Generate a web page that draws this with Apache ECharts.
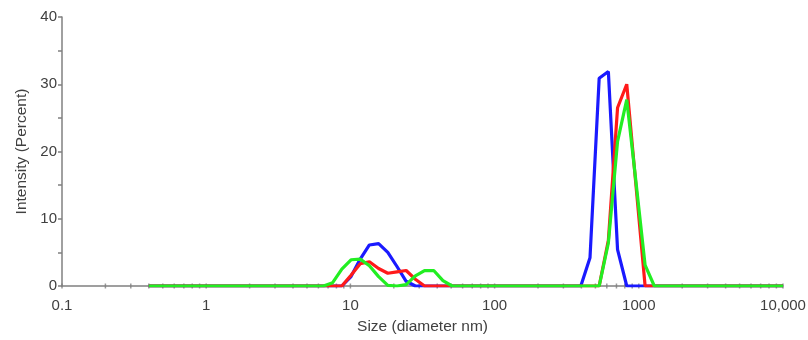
<!DOCTYPE html>
<html><head><meta charset="utf-8">
<script src="https://cdn.jsdelivr.net/npm/echarts@6/dist/echarts.min.js"></script>
<style>html,body{margin:0;padding:0;background:#fff}#c{width:808px;height:340px}</style>
</head><body><div id="c"></div>
<script>
// Size bins (diameter, nm)
const sizes = [0.4,0.4632,0.5365,0.6213,0.7195,0.8332,0.9649,1.117,1.294,1.499,
  1.736,2.01,2.328,2.696,3.122,3.615,4.187,4.849,5.615,6.503,
  7.531,8.721,10.1,11.7,13.54,15.69,18.17,21.04,24.36,28.21,
  32.67,37.84,43.82,50.75,58.77,68.06,78.82,91.28,105.7,122.4,
  141.8,164.2,190.1,220.2,255.0,295.3,342.0,396.1,458.7,531.2,
  615.1,712.4,825.0,955.4,1106,1281,1484,1718,1990,2305,
  2669,3091,3580,4145,4801,5560,6439,7456,8635,10000];
// Intensity (%) per bin
const blueVals = [0,0,0,0,0,0,0,0,0,0,
  0,0,0,0,0,0,0,0,0,0,
  0,0,1.4,4.0,6.1,6.3,5.0,2.9,0.7,0,
  0,0,0,0,0,0,0,0,0,0,
  0,0,0,0,0,0,0,0,4.2,30.9,
  31.9,5.4,0,0,0,0,0,0,0,0,
  0,0,0,0,0,0,0,0,0,0];
const redVals = [0,0,0,0,0,0,0,0,0,0,
  0,0,0,0,0,0,0,0,0,0,
  0,0,1.6,3.3,3.6,2.6,1.9,2.1,2.3,1.0,
  0,0,0,0,0,0,0,0,0,0,
  0,0,0,0,0,0,0,0,0,0,
  6.8,26.5,30.0,15.0,0,0,0,0,0,0,
  0,0,0,0,0,0,0,0,0,0];
const greenVals = [0,0,0,0,0,0,0,0,0,0,
  0,0,0,0,0,0,0,0,0,0,
  0.5,2.5,3.9,4.0,3.0,1.4,0.1,0,0.2,1.5,
  2.3,2.3,0.8,0,0,0,0,0,0,0,
  0,0,0,0,0,0,0,0,0,0,
  6.4,21.5,27.7,15.5,3.1,0,0,0,0,0,
  0,0,0,0,0,0,0,0,0,0];
// x-axis tick positions (decades and 2..9 sub-ticks)
const decades = [0.1,1,10,100,1000];
const subSteps = [1,2,3,4,5,6,7,8,9];
const xTickValues = [];
decades.forEach(d => subSteps.forEach(m => xTickValues.push(+(d*m).toPrecision(3))));
xTickValues.push(10000);

const FONT = 'Liberation Sans, Arial, sans-serif';
const chart = echarts.init(document.getElementById('c'), null, {renderer:'canvas'});
const mk = (name, vals, color, z) => ({
  name, type:'line', data: sizes.map((s,i)=>[s, vals[i]]),
  symbol:'none', lineStyle:{color, width:3.2}, z, animation:false
});
chart.setOption({
  animation:false,
  grid:{left:62,right:25,top:17,bottom:54,containLabel:false,outerBoundsMode:'none'},
  xAxis:{
    type:'log', logBase:10, min:0.1, max:10000,
    name:'Size (diameter nm)', nameLocation:'middle', nameGap:33,
    nameTextStyle:{fontSize:15.5,color:'#404040',fontFamily:FONT},
    axisLine:{show:true,lineStyle:{color:'#808080',width:1.5}},
    axisTick:{show:false}, minorTick:{show:false}, splitLine:{show:false},
    axisLabel:{margin:12,fontSize:15,color:'#404040',fontFamily:FONT,
      formatter: v => v >= 10000 ? '10,000' : String(v)}
  },
  yAxis:{
    type:'value', min:0, max:40, interval:10,
    name:'Intensity (Percent)', nameLocation:'middle', nameGap:32, nameRotate:90,
    nameTextStyle:{fontSize:15.5,color:'#404040',fontFamily:FONT},
    axisLine:{show:true,lineStyle:{color:'#808080',width:1.5}},
    axisTick:{show:true,length:4,lineStyle:{color:'#808080',width:1.5}},
    minorTick:{show:true,splitNumber:2,length:4,lineStyle:{color:'#808080',width:1.5}},
    splitLine:{show:false},
    axisLabel:{margin:5,fontSize:15,color:'#404040',fontFamily:FONT}
  },
  series:[
    {type:'scatter', data: xTickValues.map(v=>[v,0]), symbol:'rect', symbolSize:[1.5,5],
     itemStyle:{color:'#808080'}, silent:true, z:1},
    mk('Blue', blueVals, '#1a1aff', 2),
    mk('Red', redVals, '#ff1a1a', 3),
    mk('Green', greenVals, '#22ee22', 4)
  ]
});
</script></body></html>
